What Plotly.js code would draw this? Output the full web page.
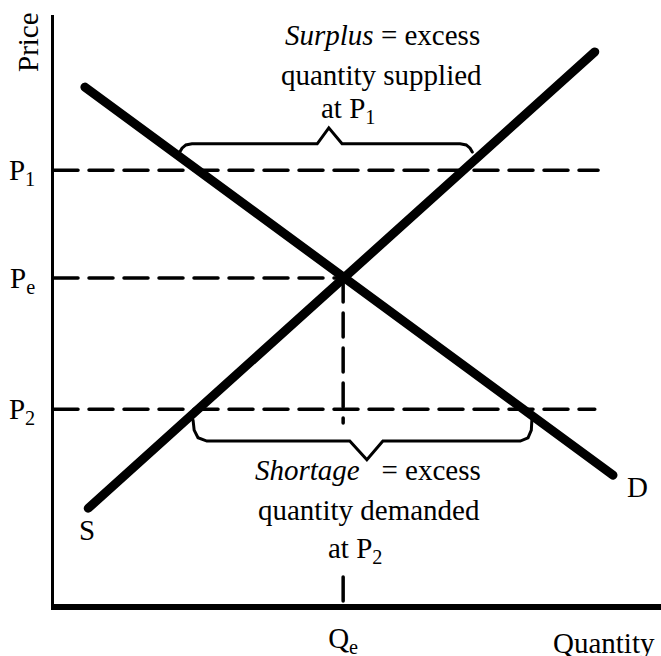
<!DOCTYPE html>
<html>
<head>
<meta charset="utf-8">
<script src="https://cdn.plot.ly/plotly-3.0.1.min.js"></script>
<style>
  body { margin: 0; background: #fff; }
  #chart { width: 661px; height: 656px; }
</style>
</head>
<body>
<div id="chart"></div>
<script>
// supply and demand curves (quantity, price)
const supplyQ = [0.62, 9.80];
const supplyP = [1.74, 10.03];
const demandQ = [0.56, 10.13];
const demandP = [9.39, 2.34];

// price levels and equilibrium quantity
const p1 = 7.88;
const pe = 5.92;
const p2 = 3.54;
const qe = 5.24;
const p1End = 9.86; // where the P1 dashed line stops
const p2End = 9.80;
const qeGapTop = 3.29; // vertical dashed line hidden behind shortage text
const qeGapBottom = 0.49;

// braces
const surplusBraceQ = [2.28, 2.32, 2.39, 2.50, 4.77, 4.98, 5.22, 7.36, 7.47, 7.54, 7.58];
const surplusBraceP = [8.21, 8.28, 8.34, 8.36, 8.36, 8.65, 8.36, 8.36, 8.34, 8.28, 8.21];
const shortageBraceQ = [2.52, 2.54, 2.61, 2.77, 5.36, 5.67, 5.96, 8.45, 8.59, 8.65, 8.66];
const shortageBraceP = [3.34, 3.16, 3.02, 2.96, 2.96, 2.62, 2.96, 2.96, 3.02, 3.16, 3.34];

const tickLabelsP = ['P<sub>2</sub>', 'P<sub>e</sub>', 'P<sub>1</sub>'];
const tickLabelsQ = ['Q<sub>e</sub>'];

const serif = 'Liberation Serif, Times New Roman, serif';
const dashed = { color: '#000', width: 3.5, dash: '24px,11px' };

const traces = [
  // dashed guides first so the curves sit on top
  { x: [0, p1End], y: [p1, p1], mode: 'lines', line: dashed },
  { x: [0, qe], y: [pe, pe], mode: 'lines', line: dashed },
  { x: [0, p2End], y: [p2, p2], mode: 'lines', line: dashed },
  { x: [qe, qe, null, qe, qe], y: [pe, qeGapTop, null, qeGapBottom, 0], mode: 'lines', line: dashed },
  { x: surplusBraceQ, y: surplusBraceP, mode: 'lines', line: { color: '#000', width: 3 } },
  { x: shortageBraceQ, y: shortageBraceP, mode: 'lines', line: { color: '#000', width: 3 } },
  { x: supplyQ, y: supplyP, mode: 'lines', line: { color: '#000', width: 9 } },
  { x: demandQ, y: demandP, mode: 'lines', line: { color: '#000', width: 9 } },
];

function note(x, y, text, extra) {
  return Object.assign({
    x, y, text, xref: 'x', yref: 'y', showarrow: false,
    xanchor: 'center', yanchor: 'middle',
    font: { family: serif, size: 29, color: '#000' },
  }, extra || {});
}

const layout = {
  width: 661,
  height: 656,
  margin: { l: 54, r: 0, t: 15, b: 52 },
  showlegend: false,
  paper_bgcolor: '#fff',
  plot_bgcolor: '#fff',
  xaxis: {
    range: [0, 11],
    showgrid: false,
    zeroline: false,
    showline: true,
    linecolor: '#000',
    linewidth: 6,
    ticks: '',
    tickvals: [qe],
    ticktext: tickLabelsQ,
    ticklabelstandoff: 3,
    tickfont: { family: serif, size: 29, color: '#000' },
  },
  yaxis: {
    range: [0, 10.7],
    showgrid: false,
    zeroline: false,
    showline: true,
    linecolor: '#000',
    linewidth: 3,
    ticks: '',
    tickvals: [p2, pe, p1],
    ticktext: tickLabelsP,
    ticklabelstandoff: 10,
    tickfont: { family: serif, size: 29, color: '#000' },
  },
  annotations: [
    note(5.96, 10.34, '<i>Surplus</i> = excess'),
    note(5.93, 9.61, 'quantity supplied'),
    note(5.33, 8.97, 'at P<sub>1</sub>'),
    note(5.69, 2.43, '<i>Shortage</i>\u00a0\u00a0 = excess'),
    note(5.71, 1.71, 'quantity demanded'),
    note(5.45, 0.98, 'at P<sub>2</sub>'),
    note(0.60, 1.34, 'S'),
    note(10.58, 2.13, 'D'),
    // axis names sit outside the data range, so place them on the paper
    note(-0.043, 0.954, 'Price', { xref: 'paper', yref: 'paper', textangle: -90 }),
    note(0.906, -0.066, 'Quantity', { xref: 'paper', yref: 'paper' }),
  ],
};

Plotly.newPlot('chart', traces, layout, { staticPlot: true }).then(() => {
  // rounded ends on the thick curves
  document.querySelectorAll('.scatterlayer .js-line').forEach((p) => {
    p.style.strokeLinecap = 'round';
  });
});
</script>
</body>
</html>
